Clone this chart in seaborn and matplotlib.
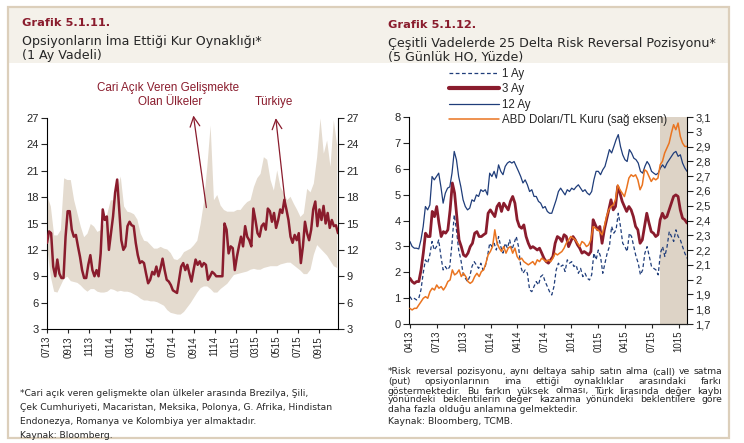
import numpy as np
import pandas as pd
import matplotlib
matplotlib.use('Agg')
import matplotlib.pyplot as plt
import matplotlib.dates as mdates
from matplotlib.patches import Rectangle
from matplotlib.lines import Line2D
from matplotlib.ticker import FuncFormatter
import seaborn as sns

# ---- veri: Grafik 5.1.11 (1 ay vadeli ima edilen oynaklik) ----
turkiye = [12.8, 14.1, 13.9, 10.1, 9.0, 10.9, 9.3, 8.8, 8.8, 13.5, 16.4, 16.4, 14.3, 13.5, 13.7,
           12.4, 11.2, 9.7, 8.8, 8.8, 10.3, 11.4, 9.7, 9.0, 9.7, 9.0, 11.6, 16.6, 15.4, 15.8,
           12.0, 13.9, 15.8, 18.5, 20.0, 16.6, 13.1, 12.0, 12.4, 14.7, 15.2, 14.8, 14.7, 12.8,
           11.4, 10.5, 10.7, 10.5, 9.3, 8.2, 8.6, 9.5, 9.2, 10.1, 9.0, 9.9, 11.0, 9.7, 8.6, 8.4,
           8.0, 7.4, 7.25, 7.1, 8.6, 10.1, 10.5, 9.7, 10.3, 9.3, 8.4, 9.7, 10.9, 10.3, 10.7, 10.1,
           10.5, 10.3, 8.6, 9.0, 9.5, 9.3, 9.0, 9.0, 9.0, 9.0, 15.0, 14.3, 11.6, 12.4, 12.2, 9.7,
           11.2, 12.4, 13.5, 12.4, 14.7, 13.5, 13.1, 12.4, 16.7, 15.4, 13.9, 13.5, 14.7, 15.0,
           14.3, 16.7, 16.4, 15.2, 16.2, 14.5, 15.4, 16.6, 16.2, 17.7, 16.6, 15.4, 13.5, 12.8,
           13.7, 13.1, 13.9, 10.5, 12.4, 15.2, 13.9, 13.1, 14.3, 16.6, 17.5, 14.7, 16.6, 15.4,
           17.0, 15.0, 16.2, 14.5, 15.4, 14.7, 14.8, 13.9]
band_upper = [18.1, 17.0, 13.7, 13.7, 14.3, 20.2, 20.0, 20.0, 17.7, 16.2, 14.7, 13.5, 13.9, 15.0,
              14.7, 14.1, 14.3, 15.0, 16.2, 17.7, 17.7, 18.8, 20.4, 17.0, 16.4, 16.3, 16.1, 15.5,
              13.9, 13.1, 13.0, 12.6, 12.2, 12.2, 12.4, 12.2, 12.1, 11.7, 11.0, 10.9, 11.2, 11.8,
              12.0, 12.2, 12.6, 13.1, 15.0, 17.5, 21.5, 26.2, 17.7, 18.3, 17.1, 16.6, 16.4, 16.4,
              16.4, 16.6, 16.6, 17.1, 17.5, 17.7, 19.2, 20.2, 20.7, 22.6, 22.3, 20.0, 18.8, 21.1,
              19.2, 18.5, 17.7, 18.1, 17.3, 16.6, 15.8, 16.2, 19.0, 18.6, 19.6, 22.6, 27.0, 23.0,
              24.5, 21.5, 26.8, 24.0]
band_lower = [12.0, 9.0, 7.3, 7.2, 8.0, 8.8, 9.0, 8.5, 8.4, 8.3, 8.0, 7.6, 7.3, 7.6, 7.6, 7.3,
              7.2, 7.2, 7.3, 7.6, 7.5, 7.3, 7.4, 7.3, 7.3, 7.2, 7.0, 6.8, 6.5, 6.3, 6.3, 6.2, 6.2,
              6.1, 5.9, 5.7, 5.2, 4.9, 4.8, 4.7, 4.7, 5.0, 5.5, 6.0, 6.6, 7.2, 7.7, 7.9, 7.9, 7.6,
              7.2, 7.2, 7.6, 7.9, 8.2, 8.7, 9.2, 9.3, 9.4, 9.5, 9.6, 9.8, 9.9, 9.8, 9.8, 10.0, 10.1,
              10.2, 10.2, 10.2, 10.4, 10.5, 10.6, 10.6, 10.3, 10.0, 9.7, 9.3, 9.3, 9.8, 11.5, 12.6,
              12.2, 11.8, 11.4, 10.8, 10.2, 10.0]
left_yticks = [3, 6, 9, 12, 15, 18, 21, 24, 27]

# ---- veri: Grafik 5.1.12 (25 delta risk reversal) ----
bir_ay = [1.06, 0.93, 0.99, 0.93, 0.99, 1.32, 1.96, 2.48, 2.35, 2.67, 3.19, 2.86, 2.99, 3.25, 2.61,
          2.09, 2.22, 2.09, 2.22, 3.12, 4.22, 3.64, 2.86, 2.48, 1.96, 1.77, 1.64, 1.83, 2.22, 2.41,
          2.28, 2.15, 2.35, 2.09, 2.22, 2.61, 3.12, 2.99, 3.12, 2.86, 3.38, 2.99, 2.74, 3.12, 2.93,
          3.25, 2.86, 3.12, 3.38, 2.99, 2.22, 1.96, 2.09, 1.96, 1.32, 1.25, 1.45, 1.64, 1.51, 1.83,
          1.90, 1.64, 1.45, 1.25, 1.12, 1.45, 2.09, 2.35, 2.22, 2.28, 2.03, 2.48, 2.35, 2.41, 2.22,
          2.28, 1.96, 2.15, 1.83, 1.96, 1.77, 1.70, 1.90, 2.74, 2.48, 2.86, 2.61, 1.96, 2.35, 2.74,
          2.99, 3.77, 3.51, 3.64, 4.28, 3.77, 3.12, 2.99, 2.80, 3.51, 3.38, 2.99, 2.61, 2.35, 1.90,
          2.09, 2.74, 2.99, 2.61, 2.22, 2.15, 2.09, 1.90, 2.74, 2.99, 2.61, 2.99, 3.57, 3.38, 3.19,
          3.64, 3.38, 3.25, 2.99, 2.74, 2.54]
uc_ay = [1.77, 1.64, 1.57, 1.64, 1.64, 2.09, 2.74, 3.51, 3.38, 3.38, 4.35, 4.15, 4.54, 3.90, 3.38,
         3.57, 3.51, 3.64, 4.41, 5.45, 5.06, 4.15, 3.25, 2.99, 2.67, 2.61, 2.74, 2.99, 3.12, 3.51,
         3.57, 3.38, 3.38, 3.45, 3.51, 4.28, 4.41, 4.28, 4.15, 4.54, 4.67, 4.35, 4.67, 4.54, 4.41,
         4.74, 4.93, 4.67, 4.03, 3.77, 3.70, 3.83, 3.38, 3.12, 2.93, 2.99, 2.93, 2.86, 2.93, 2.74,
         2.54, 2.41, 2.35, 2.48, 2.61, 3.12, 3.38, 3.32, 3.19, 3.45, 3.38, 2.99, 3.19, 3.38, 3.25,
         3.06, 2.93, 2.74, 2.80, 2.74, 2.67, 2.80, 4.03, 3.83, 3.64, 3.77, 3.12, 3.64, 4.03, 4.41,
         4.80, 4.41, 4.54, 5.32, 5.06, 4.74, 4.54, 4.35, 4.54, 4.41, 4.15, 3.77, 3.64, 3.12, 3.25,
         3.77, 4.28, 3.90, 3.57, 3.51, 3.38, 3.45, 4.03, 4.28, 4.09, 4.15, 4.41, 4.67, 4.93, 4.99,
         4.93, 4.41, 4.09, 4.03, 3.90]
oniki_ay = [3.19, 3.00, 2.93, 2.93, 2.90, 3.25, 3.77, 4.54, 4.41, 4.60, 5.70, 5.57, 5.70, 5.83, 5.30,
            4.67, 5.06, 5.25, 5.30, 5.83, 6.67, 6.35, 5.70, 5.30, 4.80, 4.54, 4.41, 4.48, 4.80, 4.74,
            4.99, 4.93, 5.19, 5.12, 5.19, 4.99, 5.83, 5.70, 5.90, 5.64, 6.15, 5.90, 5.77, 6.09, 6.22,
            6.28, 6.22, 6.28, 6.09, 5.90, 5.70, 5.45, 5.57, 5.38, 5.12, 5.19, 4.93, 4.93, 4.74, 4.67,
            4.48, 4.54, 4.35, 4.28, 4.28, 4.54, 4.80, 5.12, 5.25, 5.12, 4.99, 5.19, 5.12, 5.25, 5.19,
            5.30, 5.38, 5.25, 5.12, 5.19, 5.06, 4.99, 5.12, 5.57, 5.90, 5.90, 5.77, 5.96, 6.09, 6.41,
            6.74, 6.61, 6.86, 7.12, 7.32, 6.86, 6.54, 6.35, 6.28, 6.74, 6.61, 6.41, 6.35, 6.22, 5.90,
            5.83, 6.09, 6.28, 6.15, 5.90, 5.83, 5.77, 5.83, 6.03, 6.15, 6.03, 6.22, 6.35, 6.48, 6.61,
            6.67, 6.48, 6.54, 6.22, 6.03, 5.90]
usd_try = [1.806, 1.795, 1.806, 1.806, 1.829, 1.851, 1.874, 1.885, 1.874, 1.919, 1.942, 1.930, 1.964,
           1.942, 1.953, 1.930, 1.953, 1.987, 1.998, 2.066, 2.032, 2.043, 2.066, 2.021, 2.043, 2.021,
           1.987, 1.975, 1.987, 2.021, 2.043, 2.021, 2.055, 2.066, 2.111, 2.167, 2.190, 2.224, 2.337,
           2.247, 2.213, 2.190, 2.224, 2.179, 2.213, 2.224, 2.179, 2.213, 2.156, 2.134, 2.145, 2.122,
           2.111, 2.100, 2.111, 2.122, 2.100, 2.134, 2.122, 2.145, 2.134, 2.122, 2.134, 2.122, 2.145,
           2.179, 2.167, 2.179, 2.190, 2.213, 2.247, 2.269, 2.292, 2.281, 2.269, 2.247, 2.224, 2.258,
           2.247, 2.224, 2.235, 2.269, 2.359, 2.348, 2.337, 2.325, 2.303, 2.359, 2.427, 2.472, 2.495,
           2.506, 2.540, 2.641, 2.608, 2.585, 2.562, 2.619, 2.687, 2.709, 2.698, 2.709, 2.675, 2.608,
           2.641, 2.743, 2.732, 2.698, 2.664, 2.687, 2.675, 2.687, 2.777, 2.800, 2.856, 2.890, 2.924,
           2.991, 3.048, 3.014, 3.059, 2.969, 2.924, 2.901, 2.901]
right_yticks = [0, 1, 2, 3, 4, 5, 6, 7, 8]
kur_ticks = [1.7, 1.8, 1.9, 2.0, 2.1, 2.2, 2.3, 2.4, 2.5, 2.6, 2.7, 2.8, 2.9, 3.0, 3.1]
legend_labels = ['1 Ay', '3 Ay', '12 Ay', 'ABD Doları/TL Kuru (sağ eksen)']

# renkler
KIRMIZI = '#8a1c2d'
LACIVERT = '#1f3d7a'
TURUNCU = '#ea7420'
BANT = '#e4dbcf'
GOLGE = '#ddd3c6'
BASLIK_ZEMIN = '#f4f1ea'
CERCEVE = '#dccfbb'

sns.set_style('white')
plt.rcParams['font.family'] = ['Liberation Sans', 'DejaVu Sans']

W, H = 744, 443
fig = plt.figure(figsize=(W / 100, H / 100), dpi=100)
renderer = fig.canvas.get_renderer()


def fx(x):
    return x / W


def fy(y):
    return 1 - y / H


def fit_size(s, width, **kw):
    # yazinin genisligi referanstakine uysun diye punto hesapla
    t = fig.text(0, 0, s, fontsize=10, **kw)
    w = t.get_window_extent(renderer).width
    t.remove()
    return 10 * width / w


def justified(line, x0, x1, y, size, **kw):
    words = line.split()
    texts = [fig.text(0, 0, w, fontsize=size, va='center', **kw) for w in words]
    widths = [t.get_window_extent(renderer).width for t in texts]
    gap = (x1 - x0 - sum(widths)) / (len(words) - 1)
    x = x0
    for t, w in zip(texts, widths):
        t.set_position((fx(x), fy(y)))
        x += w + gap


# baslik zemini ve cerceve
fig.add_artist(Rectangle((fx(8), fy(63)), (729 - 8) / W, (63 - 8) / H, transform=fig.transFigure,
                         facecolor=BASLIK_ZEMIN, edgecolor='none', zorder=0))
fig.add_artist(Rectangle((fx(8), fy(438)), (729 - 8) / W, (438 - 7) / H, transform=fig.transFigure,
                         facecolor='none', edgecolor=CERCEVE, lw=1.6, zorder=1))

# basliklar
gsize = fit_size('Grafik 5.1.11.', 88, weight='bold', family='DejaVu Sans')
tsize = fit_size('Çeşitli Vadelerde 25 Delta Risk Reversal Pozisyonu*', 324, family='DejaVu Sans')
fig.text(fx(22), fy(23), 'Grafik 5.1.11.', fontsize=gsize, weight='bold', family='DejaVu Sans',
         color=KIRMIZI, va='center')
fig.text(fx(22), fy(41), 'Opsiyonların İma Ettiği Kur Oynaklığı*', fontsize=tsize, family='DejaVu Sans', va='center')
fig.text(fx(22), fy(56), '(1 Ay Vadeli)', fontsize=tsize, family='DejaVu Sans', va='center')
fig.text(fx(388), fy(25), 'Grafik 5.1.12.', fontsize=gsize, weight='bold', family='DejaVu Sans',
         color=KIRMIZI, va='center')
fig.text(fx(388), fy(43), 'Çeşitli Vadelerde 25 Delta Risk Reversal Pozisyonu*', fontsize=tsize,
         family='DejaVu Sans', va='center')
fig.text(fx(388), fy(57), '(5 Günlük HO, Yüzde)', fontsize=tsize, family='DejaVu Sans', va='center')

# ---- sol grafik ----
ax1 = fig.add_axes([fx(47), fy(329), (338 - 47) / W, (329 - 118) / H])
x_start, x_end = pd.Timestamp('2013-07-01'), pd.Timestamp('2015-10-26')
band_dates = pd.date_range(x_start, '2015-10-22', periods=len(band_upper))
ax1.fill_between(band_dates, band_lower, band_upper, color=BANT, lw=0, zorder=1)
tr_dates = pd.date_range(x_start, x_end, periods=len(turkiye))
sns.lineplot(x=tr_dates, y=turkiye, ax=ax1, color=KIRMIZI, lw=1.8, zorder=3)
ax1.set_xlim(x_start, x_end)
ax1.set_ylim(3, 27)
ax1.set_yticks(left_yticks)
ax1.set_xticks(pd.date_range('2013-07-01', '2015-09-01', freq='2MS'))
ax1.xaxis.set_major_formatter(mdates.DateFormatter('%m%y'))
ax1.tick_params(axis='y', left=True, right=True, labelleft=True, labelright=True,
                direction='out', length=4, width=0.8, labelsize=8, pad=2)
ax1.tick_params(axis='x', bottom=True, direction='out', length=3, width=0.8, labelsize=7,
                labelrotation=90, pad=2)
ax1.spines['top'].set_visible(False)
for s in ['left', 'right', 'bottom']:
    ax1.spines[s].set_color('black')
    ax1.spines[s].set_linewidth(0.8)
ax1.set_xlabel('')
ax1.set_ylabel('')

# oklar ve aciklamalar
ok = dict(arrowstyle='->,head_length=0.7,head_width=0.35', color=KIRMIZI, lw=0.9)
ax1.annotate('', xy=(pd.Timestamp('2014-08-30'), 27.6), xytext=(pd.Timestamp('2014-10-09'), 16.5),
             arrowprops=ok, annotation_clip=False)
ax1.annotate('', xy=(pd.Timestamp('2015-04-27'), 27.3), xytext=(pd.Timestamp('2015-05-26'), 17.1),
             arrowprops=ok, annotation_clip=False)
asize = fit_size('Cari Açık Veren Gelişmekte', 143)
fig.text(fx(168), fy(88), 'Cari Açık Veren Gelişmekte', fontsize=asize, color=KIRMIZI, ha='center', va='center')
fig.text(fx(170), fy(102), 'Olan Ülkeler', fontsize=asize, color=KIRMIZI, ha='center', va='center')
fig.text(fx(274), fy(102), 'Türkiye', fontsize=asize, color=KIRMIZI, ha='center', va='center')

# ---- sag grafik ----
ax2 = fig.add_axes([fx(409), fy(324), (687 - 409) / W, (324 - 117) / H])
ax2r = ax2.twinx()
r_start, r_end = pd.Timestamp('2013-04-01'), pd.Timestamp('2015-10-29')
ax2.axvspan(pd.Timestamp('2015-07-29'), r_end, color=GOLGE, lw=0, zorder=0)
sns.lineplot(x=pd.date_range(r_start, r_end, periods=len(bir_ay)), y=bir_ay, ax=ax2,
             color=LACIVERT, lw=0.9, linestyle=(0, (3, 2)))
sns.lineplot(x=pd.date_range(r_start, r_end, periods=len(uc_ay)), y=uc_ay, ax=ax2,
             color=KIRMIZI, lw=2.0)
sns.lineplot(x=pd.date_range(r_start, r_end, periods=len(oniki_ay)), y=oniki_ay, ax=ax2,
             color=LACIVERT, lw=0.9)
sns.lineplot(x=pd.date_range(r_start, r_end, periods=len(usd_try)), y=usd_try, ax=ax2r,
             color=TURUNCU, lw=1.1)
ax2.set_xlim(pd.Timestamp('2013-03-29'), r_end)
ax2.set_ylim(0, 8)
ax2.set_yticks(right_yticks)
ax2r.set_ylim(1.7, 3.1)
ax2r.set_yticks(kur_ticks)
ax2r.yaxis.set_major_formatter(FuncFormatter(
    lambda v, p: ('%.1f' % v).rstrip('0').rstrip('.').replace('.', ',')))
ax2.set_xticks(pd.date_range('2013-04-01', '2015-10-01', freq='3MS'))
ax2.xaxis.set_major_formatter(mdates.DateFormatter('%m%y'))
ax2.tick_params(axis='y', left=True, direction='out', length=4, width=0.8, labelsize=8, pad=2)
ax2r.tick_params(axis='y', right=True, direction='out', length=4, width=0.8, labelsize=8, pad=2)
ax2.tick_params(axis='x', bottom=True, direction='out', length=3, width=0.8, labelsize=7,
                labelrotation=90, pad=2)
for a in (ax2, ax2r):
    a.spines['top'].set_visible(False)
    a.set_xlabel('')
    a.set_ylabel('')
ax2.spines['right'].set_visible(False)
ax2r.spines['left'].set_visible(False)
ax2.spines['left'].set_linewidth(0.8)
ax2.spines['bottom'].set_linewidth(0.8)
ax2r.spines['right'].set_linewidth(0.8)
for s in ax2.spines.values():
    s.set_color('black')
ax2r.spines['right'].set_color('black')

lsize = fit_size(legend_labels[3], 166)
fs_px = lsize * 100 / 72
handles = [Line2D([], [], color=LACIVERT, lw=0.9, ls=(0, (3, 2))),
           Line2D([], [], color=KIRMIZI, lw=3.0),
           Line2D([], [], color=LACIVERT, lw=0.9),
           Line2D([], [], color=TURUNCU, lw=1.1)]
fig.legend(handles, legend_labels, loc='upper left', bbox_to_anchor=(fx(449), fy(75 - 0.6 * fs_px)),
           frameon=False, fontsize=lsize, handlelength=50 / fs_px, handletextpad=0.3,
           labelspacing=(16.7 - 1.15 * fs_px) / fs_px, borderpad=0, borderaxespad=0)

# dipnotlar
nsize = fit_size('Çek Cumhuriyeti, Macaristan, Meksika, Polonya, G. Afrika, Hindistan', 312,
                 family='DejaVu Sans')
left_notes = ['*Cari açık veren gelişmekte olan ülkeler arasında Brezilya, Şili,',
              'Çek Cumhuriyeti, Macaristan, Meksika, Polonya, G. Afrika, Hindistan',
              'Endonezya, Romanya ve Kolombiya yer almaktadır.',
              'Kaynak: Bloomberg.']
for line, y in zip(left_notes, [394, 408, 422, 435]):
    fig.text(fx(20), fy(y), line, fontsize=nsize, family='DejaVu Sans', va='center')

right_notes = ['*Risk reversal pozisyonu, aynı deltaya sahip satın alma (call) ve satma',
               '(put) opsiyonlarının ima ettiği oynaklıklar arasındaki farkı',
               'göstermektedir. Bu farkın yüksek olması, Türk lirasında değer kaybı',
               'yönündeki beklentilerin değer kazanma yönündeki beklentilere göre']
rsize = fit_size(right_notes[0], 330, family='DejaVu Sans')
for line, y in zip(right_notes, [372, 381, 391, 400]):
    justified(line, 388, 722, y, rsize, family='DejaVu Sans')
fig.text(fx(388), fy(410), 'daha fazla olduğu anlamına gelmektedir.', fontsize=rsize,
         family='DejaVu Sans', va='center')
fig.text(fx(388), fy(422), 'Kaynak: Bloomberg, TCMB.', fontsize=rsize, family='DejaVu Sans', va='center')

fig.savefig('out.png', dpi=100)
